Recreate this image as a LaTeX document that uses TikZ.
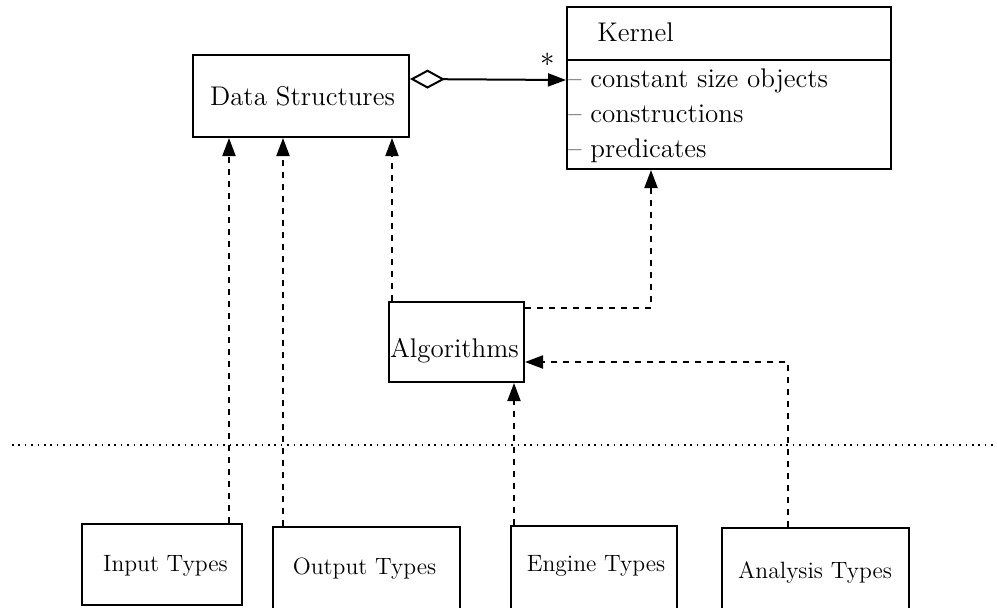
\documentclass[tikz,border=0pt]{standalone}
\usetikzlibrary{arrows.meta}
\begin{document}
\begin{tikzpicture}[x=0.5pt,y=-0.5pt,
  box/.style={draw, line width=1pt, inner sep=0pt, rectangle},
  toptext/.style={font=\fontsize{13.5}{15}\selectfont, inner sep=0pt},
  bottext/.style={font=\fontsize{11.8}{14}\selectfont, inner sep=0pt},
  dep/.style={dashed, line width=1pt, -{Triangle[length=9pt,width=6.5pt]}},
  agg/.style={line width=1pt, {Diamond[open,length=17.5pt,width=9.5pt]}-{Triangle[length=9pt,width=6.5pt]}},
  sepline/.style={line width=0.8pt, dash pattern=on 0.8pt off 2.4pt}]
\useasboundingbox (0,0) rectangle (997,607);
% top boxes
\node[box, minimum width=108pt, minimum height=41pt] (ds) at (301,96) {};
\node[toptext, anchor=base] (dst) at (302.5,105) {Data Structures};
\node[box, minimum width=162pt, minimum height=81pt] (kern) at (729,88) {};
\draw[line width=1pt] ([yshift=-27.2pt]kern.north west) -- ([yshift=-27.2pt]kern.north east);
\node[toptext, anchor=base west] (kt) at (597,41.7) {Kernel};
\node[toptext, anchor=base west] (k1) at (568,87) {-- constant size objects};
\node[toptext, anchor=base west] (k2) at (568,122) {-- constructions};
\node[toptext, anchor=base west] (k3) at (568,157) {-- predicates};
\node[toptext] (star) at (548,60) {$\ast$};
% algorithms
\node[box, minimum width=67.5pt, minimum height=40pt] (alg) at (456.5,342) {};
\node[toptext, anchor=base] (algt) at (454.5,357) {Algorithms};
% bottom boxes
\node[box, minimum width=80pt, minimum height=40.5pt] (inp) at (162,564.5) {};
\node[bottext, anchor=base] (inpt) at (165.5,571) {Input Types};
\node[box, minimum width=93.5pt, minimum height=42.5pt] (out) at (366.5,569.5) {};
\node[bottext, anchor=base] (outt) at (364.5,574) {Output Types};
\node[box, minimum width=83pt, minimum height=43pt] (eng) at (594,569) {};
\node[bottext, anchor=base] (engt) at (596,571) {Engine Types};
\node[box, minimum width=93.5pt, minimum height=42pt] (ana) at (815.5,570) {};
\node[bottext, anchor=base] (anat) at (815,578) {Analysis Types};
% separator
\coordinate (sl) at (12,445);
\coordinate (sr) at (997,445);
\draw[sepline] (sl) -- (sr);
% aggregation
\draw[agg] ([yshift=-12.5pt]ds.north east) -- ([yshift=-37pt]kern.north west);
% dependencies
\coordinate (a1) at ([xshift=74pt]inp.north west);
\draw[dep] (a1) -- (a1 |- ds.south);
\coordinate (a2) at ([xshift=5.5pt]out.north west);
\draw[dep] (a2) -- (a2 |- ds.south);
\coordinate (a3) at ([xshift=2pt]alg.north west);
\draw[dep] (a3) -- (a3 |- ds.south);
\coordinate (a4) at ([yshift=-3.5pt]alg.north east);
\coordinate (k4) at ([xshift=42.5pt]kern.south west);
\draw[dep] (a4) -| (k4);
\coordinate (a5) at ([xshift=2pt]eng.north west);
\draw[dep] (a5) -- (a5 |- alg.south);
\coordinate (a6) at ([xshift=33.5pt]ana.north west);
\coordinate (g6) at ([yshift=10.5pt]alg.south east);
\draw[dep] (a6) |- (g6);
\end{tikzpicture}
\end{document}
